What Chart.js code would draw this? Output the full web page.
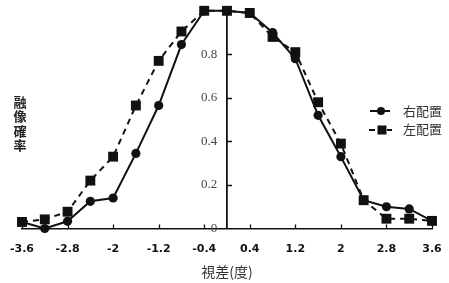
<!DOCTYPE html>
<html>
<head>
<meta charset="utf-8">
<script src="https://cdn.jsdelivr.net/npm/chart.js@4/dist/chart.umd.min.js"></script>
<style>
  html, body { margin: 0; padding: 0; background: #fff; }
  #wrap { width: 449px; height: 283px; position: relative; }
</style>
</head>
<body>
<div id="wrap"><canvas id="chart"></canvas></div>
<script>
// 視差(度)
const disparity = [-3.6, -3.2, -2.8, -2.4, -2.0, -1.6, -1.2, -0.8, -0.4, 0, 0.4, 0.8, 1.2, 1.6, 2.0, 2.4, 2.8, 3.2, 3.6];
// 右配置 (●, 実線)
const rightPlacement = [0.03, 0.0, 0.033, 0.125, 0.14, 0.345, 0.565, 0.845, 1.0, 1.0, 0.99, 0.9, 0.78, 0.52, 0.33, 0.13, 0.10, 0.09, 0.035];
// 左配置 (■, 破線)
const leftPlacement = [0.03, 0.042, 0.077, 0.22, 0.33, 0.565, 0.77, 0.905, 1.0, 1.0, 0.99, 0.88, 0.81, 0.58, 0.39, 0.13, 0.045, 0.045, 0.035];

const xTicks = [-3.6, -2.8, -2, -1.2, -0.4, 0.4, 1.2, 2, 2.8, 3.6];
const yTicks = [0, 0.2, 0.4, 0.6, 0.8];
const yTitle = ['融', '像', '確', '率'];
const legendLabels = ['右配置', '左配置'];

const ink = '#111';

// 内向きの目盛り線
const innerTicks = {
  id: 'innerTicks',
  afterDraw(chart) {
    const ctx = chart.ctx;
    const xs = chart.scales.x, ys = chart.scales.y;
    const x0 = xs.getPixelForValue(0);
    const yb = ys.getPixelForValue(0);
    ctx.save();
    ctx.strokeStyle = ink;
    ctx.lineWidth = 1.3;
    ctx.beginPath();
    xTicks.forEach(v => {
      const px = Math.round(xs.getPixelForValue(v)) + 0.5;
      ctx.moveTo(px, yb);
      ctx.lineTo(px, yb - 4);
    });
    yTicks.slice(1).concat([1]).forEach(v => {
      const py = Math.round(ys.getPixelForValue(v)) + 0.5;
      ctx.moveTo(x0, py);
      ctx.lineTo(x0 + 5, py);
    });
    ctx.stroke();
    ctx.restore();
  }
};

// 縦書きの軸タイトルと凡例
const annotations = {
  id: 'annotations',
  afterDraw(chart) {
    const ctx = chart.ctx;
    ctx.save();
    ctx.fillStyle = '#222';
    ctx.font = 'bold 13px "Noto Sans CJK JP"';
    ctx.textAlign = 'center';
    ctx.textBaseline = 'middle';
    yTitle.forEach((ch, i) => ctx.fillText(ch, 20, 102 + i * 14.5));

    // 凡例
    ctx.strokeStyle = ink;
    ctx.fillStyle = ink;
    ctx.lineWidth = 2;
    ctx.beginPath();
    ctx.moveTo(370, 111); ctx.lineTo(390, 111);
    ctx.stroke();
    ctx.beginPath();
    ctx.arc(381, 111, 4, 0, Math.PI * 2);
    ctx.fill();
    ctx.beginPath();
    ctx.moveTo(369, 130); ctx.lineTo(375, 130);
    ctx.moveTo(387, 130); ctx.lineTo(392, 130);
    ctx.stroke();
    ctx.fillRect(377.5, 125.5, 9, 9);

    ctx.font = '13px "Noto Sans CJK JP"';
    ctx.fillStyle = '#333';
    ctx.textAlign = 'left';
    ctx.fillText(legendLabels[0], 403, 111);
    ctx.fillText(legendLabels[1], 403, 129);
    ctx.restore();
  }
};

new Chart(document.getElementById('chart'), {
  type: 'line',
  data: {
    datasets: [
      {
        label: legendLabels[0],
        data: disparity.map((x, i) => ({ x: x, y: rightPlacement[i] })),
        borderColor: ink,
        backgroundColor: ink,
        borderWidth: 2,
        pointStyle: 'circle',
        pointRadius: 4.6,
        pointBorderWidth: 0,
        tension: 0,
        clip: false,
        order: 2
      },
      {
        label: legendLabels[1],
        data: disparity.map((x, i) => ({ x: x, y: leftPlacement[i] })),
        borderColor: ink,
        backgroundColor: ink,
        borderWidth: 2,
        borderDash: [6, 5],
        pointStyle: 'rect',
        pointRadius: 7,
        pointBorderWidth: 0,
        tension: 0,
        clip: false,
        order: 1
      }
    ]
  },
  options: {
    responsive: true,
    maintainAspectRatio: false,
    animation: false,
    layout: { padding: { left: 22, right: 17, top: 10, bottom: 2.5 } },
    plugins: {
      legend: { display: false },
      tooltip: { enabled: false }
    },
    scales: {
      x: {
        type: 'linear',
        position: 'bottom',
        min: -3.6,
        max: 3.6,
        afterBuildTicks: scale => { scale.ticks = xTicks.map(v => ({ value: v })); },
        grid: { display: false },
        border: { display: true, color: ink, width: 1.6 },
        ticks: {
          padding: 6,
          color: '#111',
          font: { family: 'DejaVu Sans', size: 11, weight: 'bold' },
          callback: v => (v < 0 ? '-' : '') + Math.abs(v).toString()
        },
        title: {
          display: true,
          text: '視差(度)',
          color: '#333',
          font: { family: 'Noto Sans CJK JP', size: 14 },
          padding: { top: 2, bottom: 0 }
        }
      },
      y: {
        type: 'linear',
        position: { x: 0 },
        min: 0,
        max: 1,
        afterBuildTicks: scale => { scale.ticks = yTicks.map(v => ({ value: v })); },
        grid: { display: false },
        border: { display: true, color: ink, width: 1.8 },
        ticks: {
          color: '#444',
          font: { family: 'Liberation Serif', size: 13 },
          callback: v => (v === 0 ? '0' : v.toFixed(1)) + '   '
        }
      }
    }
  },
  plugins: [innerTicks, annotations]
});
</script>
</body>
</html>
